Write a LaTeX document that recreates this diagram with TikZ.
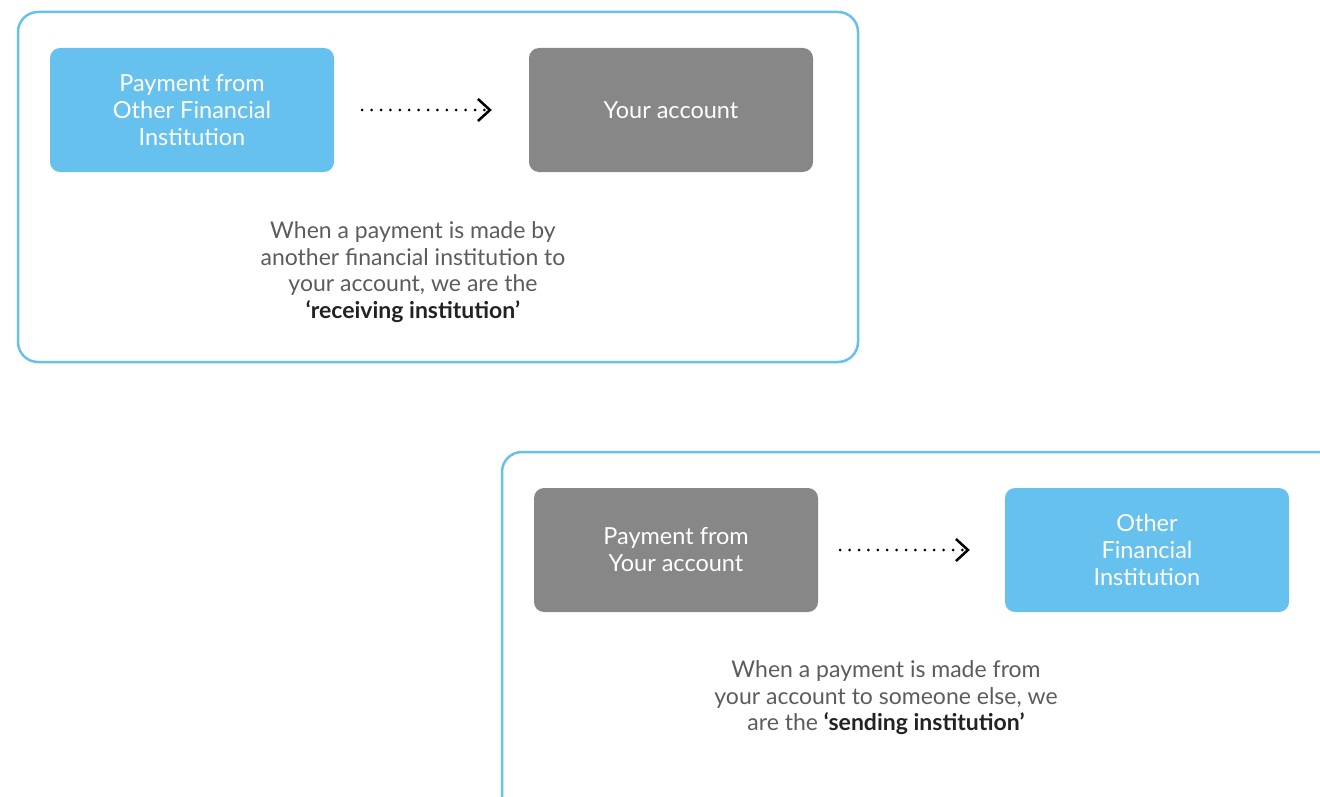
\documentclass[tikz,border=0pt]{standalone}
\usepackage{fontspec}
\setmainfont{Lato}
\usetikzlibrary{arrows.meta}
\definecolor{payblue}{HTML}{66C1EE}
\definecolor{paygrey}{HTML}{878787}
\definecolor{txtgrey}{HTML}{5C5C5C}
\definecolor{txtdark}{HTML}{222222}

\begin{document}
\begin{tikzpicture}[x=1pt,y=-1pt]
\tikzstyle{frame}=[draw=payblue, line width=2.5pt, rounded corners=20pt]
\tikzstyle{bank}=[rectangle, rounded corners=10pt, minimum width=284pt, minimum height=124pt, text=white, align=center, font=\fontsize{23.5}{27}\selectfont]
\tikzstyle{other}=[bank, fill=payblue]
\tikzstyle{mine}=[bank, fill=paygrey]
\tikzstyle{note}=[align=center, text=txtgrey, font=\fontsize{23}{26.5}\selectfont]
\tikzstyle{flow}=[line width=3pt, dash pattern=on 0pt off 9.4pt, line cap=round, -{Straight Barb[length=12pt,width=22pt,line width=2.5pt]}]
\useasboundingbox (0,0) rectangle (1320,797);
\clip (0,0) rectangle (1320,797);

	% receiving
	\draw[frame] (18,12) rectangle (858,362);
	\node[other] (from_fi) at (192,110) {Payment from\\Other Financial\\Institution};
	\node[mine] (acct) at (671,110) {Your account};
	\node[note] (recv) at (413,272) {When a payment is made by\\another financial institution to\\your account, we are the\\{\color{txtdark}\bfseries ‘receiving institution’}};

	% sending
	\draw[frame] (502,452) rectangle (1360,840);
	\node[mine] (from_acct) at (676,550) {Payment from\\Your account};
	\node[other] (to_fi) at (1147,550) {Other\\Financial\\Institution};
	\node[note] (send) at (886,698) {When a payment is made from\\your account to someone else, we\\are the {\color{txtdark}\bfseries ‘sending institution’}};

	\path
		(from_fi) edge [flow, shorten <=28pt, shorten >=37pt] (acct)
		(from_acct) edge [flow, shorten <=22pt, shorten >=35pt] (to_fi);

\end{tikzpicture}
\end{document}
